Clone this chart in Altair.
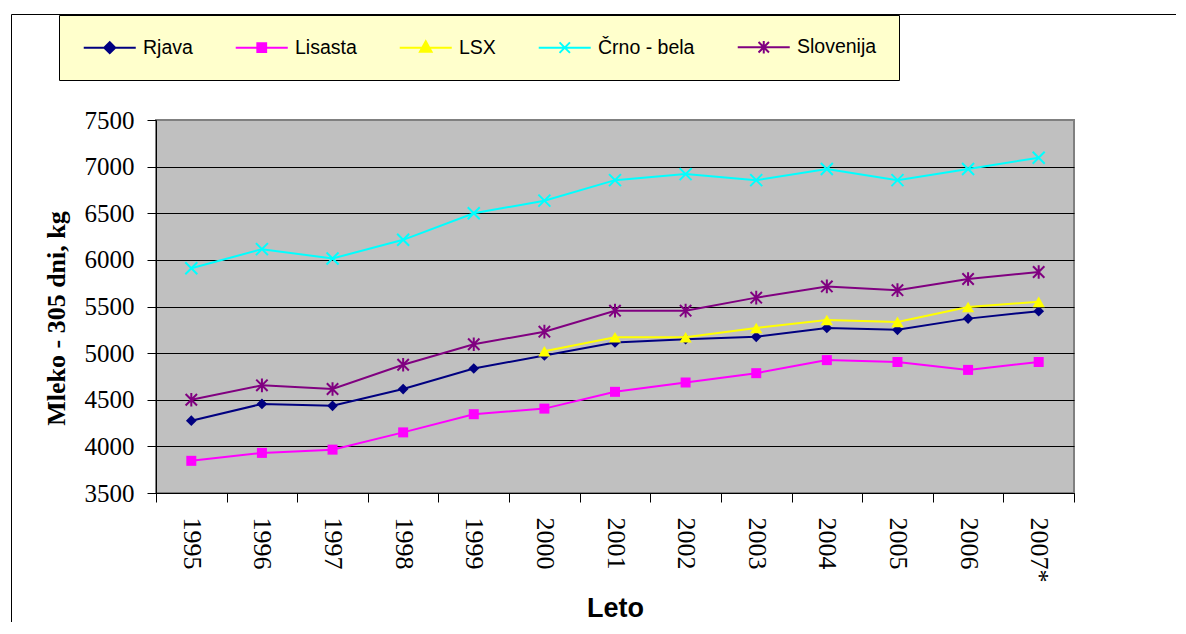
import altair as alt
import pandas as pd

years = ["1995", "1996", "1997", "1998", "1999", "2000", "2001",
         "2002", "2003", "2004", "2005", "2006", "2007*"]

names = ["Rjava", "Lisasta", "LSX", "Črno - bela", "Slovenija"]

rjava = [4275, 4455, 4435, 4615, 4835, 4975, 5115, 5150, 5175, 5270, 5250, 5370, 5450]
lisasta = [3845, 3930, 3965, 4150, 4345, 4405, 4585, 4685, 4785, 4925, 4905, 4820, 4905]
lsx = [None, None, None, None, None, 5020, 5170, 5170, 5270, 5355, 5335, 5495, 5550]
crno_bela = [5910, 6115, 6015, 6215, 6500, 6635, 6855, 6920, 6855, 6975, 6855, 6975, 7095]
slovenija = [4500, 4655, 4615, 4875, 5095, 5230, 5455, 5455, 5595, 5715, 5675, 5795, 5870]

colors = ["#000080", "#FF00FF", "#FFFF00", "#00FFFF", "#800080"]

series_values = [rjava, lisasta, lsx, crno_bela, slovenija]

rows = []
for name, vals in zip(names, series_values):
    for yr, v in zip(years, vals):
        if v is not None:
            rows.append({"series": name, "year": yr, "value": v})
df = pd.DataFrame(rows)

SERIF = "Liberation Serif"
SANS = "Liberation Sans"

X = alt.X(
    "year:N",
    scale=alt.Scale(type="band", domain=years, paddingInner=0, paddingOuter=0),
    bandPosition=0.5,
    axis=alt.Axis(
        title="Leto",
        labelAngle=90,
        labelFont=SERIF,
        labelFontSize=26,
        labelColor="black",
        labelPadding=15,
        tickBand="extent",
        tickSize=9,
        tickColor="black",
        domainColor="black",
        grid=False,
        titleFont=SANS,
        titleFontSize=27,
        titleFontWeight="bold",
        titleColor="black",
        titleY=123,
        titleBaseline="alphabetic",
    ),
)

Y = alt.Y(
    "value:Q",
    scale=alt.Scale(domain=[3500, 7500], nice=False, zero=False),
    axis=alt.Axis(
        title="Mleko - 305 dni, kg",
        values=list(range(3500, 7501, 500)),
        format="d",
        labelFont=SERIF,
        labelFontSize=25,
        labelColor="black",
        labelPadding=13,
        tickSize=9,
        tickColor="black",
        domainColor="black",
        grid=True,
        gridColor={"condition": {"test": "datum.value === 7500", "value": "#808080"}, "value": "black"},
        gridOpacity=1,
        gridWidth=1,
        titleFont=SERIF,
        titleFontSize=26,
        titleFontWeight="bold",
        titleColor="black",
        titleX=-92,
        titleY=198,
        titleBaseline="alphabetic",
        titleAlign="center",
    ),
)

point_shapes = [
    ("diamond", 115, True),
    ("square", 100, True),
    ("triangle-up", 150, True),
    ("M-1,-1L1,1M-1,1L1,-1", 144, False),
    ("M-1,-1L1,1M-1,1L1,-1M0,-1.2V1.2", 130, False),
]

L = 4.73
legend_paths = [
    f"M-{L},0H{L}M-1,0L0,-1L1,0L0,1Z",
    f"M-{L},0H{L}M-0.8,-0.8H0.8V0.8H-0.8Z",
    f"M-{L},0H{L}M0,-1.15L1.05,0.75H-1.05Z",
    f"M-{L},0H{L}M-0.95,-0.95L0.95,0.95M-0.95,0.95L0.95,-0.95",
    f"M-{L},0H{L}M-0.95,-0.95L0.95,0.95M-0.95,0.95L0.95,-0.95M0,-1.15V1.15",
]

one = pd.DataFrame({"a": [0]})
frame_top = alt.Chart(one).mark_rule(color="black", strokeWidth=1).encode(
    x=alt.value(-144.5), x2=alt.value(1020), y=alt.value(-105.5)
)
frame_left = alt.Chart(one).mark_rule(color="black", strokeWidth=1).encode(
    x=alt.value(-144.5), y=alt.value(-105.5), y2=alt.value(510)
)

layers = [frame_top, frame_left]
for name, col, (shp, sz, filled) in zip(names, colors, point_shapes):
    base = alt.Chart(df).transform_filter(alt.datum.series == name)
    layers.append(base.mark_line(color=col, strokeWidth=2).encode(x=X, y=Y))
    if filled:
        layers.append(base.mark_point(shape=shp, size=sz, filled=True, color=col, opacity=1).encode(x=X, y=Y))
    else:
        layers.append(base.mark_point(shape=shp, size=sz, filled=False, color=col, strokeWidth=2, opacity=1).encode(x=X, y=Y))

leg = alt.Legend(
    title=None,
    orient="none",
    legendX=-97,
    legendY=-105,
    direction="horizontal",
    columns=5,
    fillColor="#FFFFCC",
    strokeColor="#000000",
    padding=22,
    labelFont=SANS,
    labelFontSize=19.5,
    labelColor="black",
    labelOffset=23.5,
    symbolOffset=19,
    symbolSize=121,
    symbolStrokeWidth=2,
    columnPadding=38,
)

legend_layer = alt.Chart(df).transform_filter("false").mark_point(filled=True, opacity=1).encode(
    x=X,
    y=Y,
    shape=alt.Shape("series:N", scale=alt.Scale(domain=names, range=legend_paths), legend=leg),
    fill=alt.Fill("series:N", scale=alt.Scale(domain=names, range=colors), legend=leg),
    stroke=alt.Stroke("series:N", scale=alt.Scale(domain=names, range=colors), legend=leg),
)
layers.append(legend_layer)

chart = alt.layer(*layers).properties(
    width=918,
    height=373,
    padding={"left": 148, "top": 112, "right": 104, "bottom": 129},
    autosize=alt.AutoSizeParams(type="none"),
).configure_view(fill="#C0C0C0", stroke="#808080", strokeWidth=2)

chart.save("out.html", embed_options={"renderer": "svg", "actions": False})
